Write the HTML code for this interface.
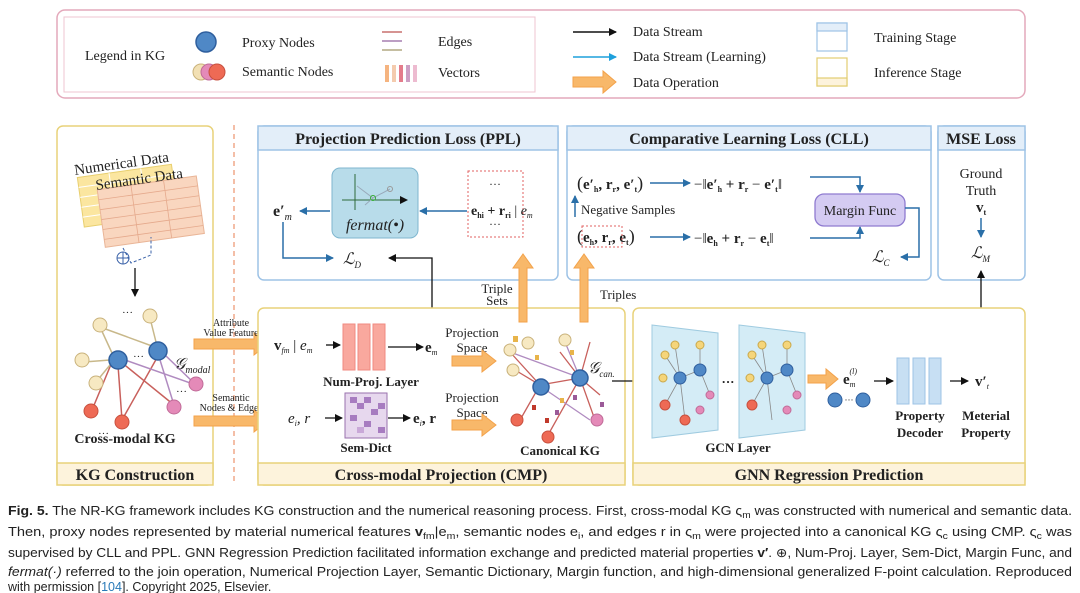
<!DOCTYPE html>
<html><head><meta charset="utf-8"><style>
html,body{margin:0;padding:0;background:#fff;width:1080px;height:593px;overflow:hidden}
svg{display:block}
text{font-family:"Liberation Serif",serif;fill:#222}
.b{font-weight:bold}
.cap{font-family:"Liberation Sans",sans-serif;font-size:12.5px;fill:#222}
</style></head><body>
<svg width="1080" height="593" viewBox="0 0 1080 593" xmlns="http://www.w3.org/2000/svg">
<defs>
<marker id="ak" markerWidth="8" markerHeight="8" refX="7" refY="4" orient="auto" markerUnits="userSpaceOnUse"><path d="M0,0 L8,4 L0,8 z" fill="#111"/></marker>
<marker id="ab" markerWidth="8" markerHeight="8" refX="7" refY="4" orient="auto" markerUnits="userSpaceOnUse"><path d="M0,0 L8,4 L0,8 z" fill="#2a6fa8"/></marker>
<marker id="ac" markerWidth="8" markerHeight="8" refX="7" refY="4" orient="auto" markerUnits="userSpaceOnUse"><path d="M0,0 L8,4 L0,8 z" fill="#1ea0dc"/></marker>
</defs>

<!-- Legend -->
<rect x="57" y="10" width="968" height="88" rx="8" fill="#fff" stroke="#e4a9bb" stroke-width="1.5"/>
<rect x="64" y="17" width="471" height="75" fill="none" stroke="#efc4d0" stroke-width="1"/>
<text x="85" y="60" font-size="14">Legend in KG</text>
<circle cx="206" cy="42" r="10" fill="#4f88c6" stroke="#2f5f9e" stroke-width="1.5"/>
<text x="242" y="47" font-size="14">Proxy Nodes</text>
<circle cx="201" cy="72" r="8" fill="#f2e0b4" stroke="#c9b27b"/>
<circle cx="209" cy="72" r="8" fill="#e48ab8" stroke="#c06b98"/>
<circle cx="217" cy="72" r="8" fill="#ee6a55" stroke="#c8503e"/>
<text x="242" y="76" font-size="14">Semantic Nodes</text>
<path d="M382,32 h20" stroke="#c9706f" stroke-width="1.5"/>
<path d="M382,41 h20" stroke="#a57fb0" stroke-width="1.5"/>
<path d="M382,50 h20" stroke="#b2a882" stroke-width="1.5"/>
<text x="438" y="46" font-size="14">Edges</text>
<g opacity="0.85">
<rect x="385" y="65" width="4" height="17" fill="#f4a86b"/><rect x="392" y="65" width="4" height="17" fill="#f3c3a1"/>
<rect x="399" y="65" width="4" height="17" fill="#e06677"/><rect x="406" y="65" width="4" height="17" fill="#c58fba"/>
<rect x="413" y="65" width="4" height="17" fill="#eab0c8"/></g>
<text x="438" y="77" font-size="14">Vectors</text>
<line x1="573" y1="32" x2="616" y2="32" stroke="#111" stroke-width="1.5" marker-end="url(#ak)"/>
<text x="633" y="36" font-size="14">Data Stream</text>
<line x1="573" y1="57" x2="616" y2="57" stroke="#1ea0dc" stroke-width="1.5" marker-end="url(#ac)"/>
<text x="633" y="61" font-size="14">Data Stream (Learning)</text>
<path d="M573,77 h30 v-6 l13,11 l-13,11 v-6 h-30 z" fill="#f8b86a" stroke="#f3a24a"/>
<text x="633" y="87" font-size="14">Data Operation</text>
<rect x="817" y="23" width="30" height="28" fill="#fff" stroke="#9ec3e6" stroke-width="1.2"/>
<rect x="817" y="23" width="30" height="8" fill="#e3eef9" stroke="#9ec3e6" stroke-width="1.2"/>
<text x="874" y="42" font-size="14">Training Stage</text>
<rect x="817" y="58" width="30" height="28" fill="#fff" stroke="#e2cd72" stroke-width="1.2"/>
<rect x="817" y="78" width="30" height="8" fill="#fdf3dc" stroke="#e2cd72" stroke-width="1.2"/>
<text x="874" y="77" font-size="14">Inference Stage</text>

<!-- KG Construction -->
<rect x="57" y="126" width="156" height="359" rx="6" fill="#fff" stroke="#e8d27a" stroke-width="1.5"/>
<rect x="57" y="463" width="156" height="22" fill="#fdf3dc" stroke="#e8d27a" stroke-width="1.5"/>
<text x="135" y="480" font-size="16" class="b" text-anchor="middle">KG Construction</text>
<line x1="234" y1="125" x2="234" y2="485" stroke="#f0a98a" stroke-width="1.5" stroke-dasharray="5,4"/>
<g transform="rotate(-8 110 180)">
<rect x="78" y="173" width="95" height="50" fill="#fbe6a0" stroke="#e8cf6f"/>
<path d="M78,183 h95 M78,193 h95 M78,203 h95 M78,213 h95 M110,173 v50 M142,173 v50" stroke="#fff" stroke-width="1"/>
<rect x="96" y="188" width="100" height="58" fill="#f9d6bf" stroke="#e9b597"/>
<path d="M96,198 h100 M96,208 h100 M96,218 h100 M96,228 h100 M96,238 h100 M130,188 v58 M163,188 v58" stroke="#e5a98c" stroke-width="0.8"/>
<text x="76" y="170" font-size="15">Numerical Data</text>
<text x="95" y="188" font-size="15">Semantic Data</text>
</g>
<circle cx="123" cy="258" r="6" fill="none" stroke="#3a62a8"/><path d="M117,258 h12 M123,252 v12" stroke="#3a62a8"/>
<path d="M123,248 l8,15 l20,-8 v-18" fill="none" stroke="#3a62a8" stroke-dasharray="3,2"/>
<line x1="135" y1="268" x2="135" y2="296" stroke="#111" stroke-width="1.3" marker-end="url(#ak)"/>
<!-- cross-modal graph -->
<g stroke-width="1.5" fill="none">
<path d="M92,410 L112,362 M122,420 L118,365 M122,420 L158,356 M174,405 L121,362" stroke="#c8605c"/>
<path d="M100,327 L112,353 M100,327 L152,346 M84,362 L110,360 M96,382 L110,365 M150,318 L156,342" stroke="#c8b88a"/>
<path d="M196,385 L125,360 M174,405 L160,360 M196,385 L165,355" stroke="#b08bc0"/>
</g>
<circle cx="100" cy="325" r="7" fill="#f7e9c2" stroke="#c9b27b"/>
<circle cx="82" cy="360" r="7" fill="#f7e9c2" stroke="#c9b27b"/>
<circle cx="150" cy="316" r="7" fill="#f7e9c2" stroke="#c9b27b"/>
<circle cx="96" cy="383" r="7" fill="#f7e9c2" stroke="#c9b27b"/>
<circle cx="91" cy="411" r="7" fill="#ee6a55" stroke="#c8503e"/>
<circle cx="122" cy="422" r="7" fill="#ee6a55" stroke="#c8503e"/>
<circle cx="174" cy="407" r="7" fill="#e48ab8" stroke="#c06b98"/>
<circle cx="196" cy="384" r="7" fill="#e48ab8" stroke="#c06b98"/>
<circle cx="118" cy="360" r="9" fill="#4f88c6" stroke="#2f5f9e" stroke-width="1.5"/>
<circle cx="158" cy="351" r="9" fill="#4f88c6" stroke="#2f5f9e" stroke-width="1.5"/>
<text x="122" y="316" font-size="11">···</text><text x="133" y="360" font-size="11">···</text>
<text x="176" y="395" font-size="11">···</text><text x="98" y="437" font-size="11">···</text>
<text x="174" y="369" font-size="16" font-style="italic">𝒢<tspan font-size="10" dy="4">modal</tspan></text>
<text x="125" y="443" font-size="14" class="b" text-anchor="middle">Cross-modal KG</text>
<!-- orange arrows to CMP -->
<path d="M194,339 h60 v-6 l14,11 l-14,11 v-6 h-60 z" fill="#f8b86a" stroke="#f3a24a"/>
<text x="231" y="326" font-size="10" text-anchor="middle">Attribute</text>
<text x="231" y="336" font-size="10" text-anchor="middle">Value Feature</text>
<path d="M194,416 h60 v-6 l14,11 l-14,11 v-6 h-60 z" fill="#f8b86a" stroke="#f3a24a"/>
<text x="231" y="401" font-size="10" text-anchor="middle">Semantic</text>
<text x="231" y="411" font-size="10" text-anchor="middle">Nodes &amp; Edges</text>

<!-- PPL -->
<rect x="258" y="126" width="300" height="154" rx="6" fill="#fff" stroke="#9ec3e6" stroke-width="1.5"/>
<rect x="258" y="126" width="300" height="24" fill="#e3eef9" stroke="#9ec3e6" stroke-width="1.5"/>
<text x="408" y="144" font-size="16" class="b" text-anchor="middle">Projection Prediction Loss (PPL)</text>
<text x="273" y="216" font-size="16" class="b">e′<tspan font-size="10" font-style="italic" font-weight="normal" dy="4">m</tspan></text>
<line x1="330" y1="211" x2="300" y2="211" stroke="#2a6fa8" stroke-width="1.5" marker-end="url(#ab)"/>
<rect x="332" y="168" width="86" height="70" rx="8" fill="#b8dcea" stroke="#7fb6cf"/>
<line x1="342" y1="200" x2="407" y2="200" stroke="#2e6a3a" marker-end="url(#ak)"/>
<line x1="355" y1="210" x2="355" y2="174" stroke="#2e6a3a"/>
<path d="M357,186 L373,198 L390,189 M373,198 L365,205" stroke="#9ab" fill="none"/>
<circle cx="373" cy="198" r="2.5" fill="none" stroke="#3a3"/><circle cx="390" cy="189" r="2.5" fill="none" stroke="#999"/>
<text x="375" y="230" font-size="16" font-style="italic" text-anchor="middle">fermat(•)</text>
<line x1="467" y1="211" x2="420" y2="211" stroke="#2a6fa8" stroke-width="1.5" marker-end="url(#ab)"/>
<rect x="468" y="171" width="55" height="66" fill="none" stroke="#e06060" stroke-dasharray="2,2"/>
<text x="495" y="188" font-size="12" text-anchor="middle">···</text>
<text x="471" y="215" font-size="14" class="b">e<tspan font-size="8" dy="3">hi</tspan><tspan dy="-3"> + r</tspan><tspan font-size="8" dy="3">ri</tspan><tspan dy="-3" font-weight="normal"> | </tspan><tspan font-style="italic" font-weight="normal">e</tspan><tspan font-size="8" font-style="italic" font-weight="normal" dy="3">m</tspan></text>
<text x="495" y="228" font-size="12" text-anchor="middle">···</text>
<path d="M283,222 v36 h50" fill="none" stroke="#2a6fa8" stroke-width="1.5" marker-end="url(#ab)"/>
<text x="343" y="264" font-size="16" font-style="italic">ℒ<tspan font-size="9" dy="4">D</tspan></text>
<path d="M432,330 v-72 h-43" fill="none" stroke="#111" stroke-width="1.3" marker-end="url(#ak)"/>

<!-- CLL -->
<rect x="567" y="126" width="364" height="154" rx="6" fill="#fff" stroke="#9ec3e6" stroke-width="1.5"/>
<rect x="567" y="126" width="364" height="24" fill="#e3eef9" stroke="#9ec3e6" stroke-width="1.5"/>
<text x="749" y="144" font-size="16" class="b" text-anchor="middle">Comparative Learning  Loss (CLL)</text>
<text x="577" y="189" font-size="15" class="b"><tspan font-weight="normal" font-size="18">(</tspan>e′<tspan font-size="8" dy="3">h</tspan><tspan dy="-3">, r</tspan><tspan font-size="8" dy="3">r</tspan><tspan dy="-3">, e′</tspan><tspan font-size="8" dy="3">t</tspan><tspan dy="-3" font-weight="normal" font-size="18">)</tspan></text>
<line x1="650" y1="183" x2="690" y2="183" stroke="#2a6fa8" stroke-width="1.5" marker-end="url(#ab)"/>
<text x="694" y="189" font-size="15" class="b"><tspan font-weight="normal">−‖</tspan>e′<tspan font-size="8" dy="3">h</tspan><tspan dy="-3"> + r</tspan><tspan font-size="8" dy="3">r</tspan><tspan dy="-3" font-weight="normal"> − </tspan>e′<tspan font-size="8" dy="3">t</tspan><tspan dy="-3" font-weight="normal">‖</tspan></text>
<line x1="575" y1="217" x2="575" y2="196" stroke="#2a6fa8" stroke-width="1.5" marker-end="url(#ab)"/>
<text x="581" y="214" font-size="13">Negative Samples</text>
<text x="577" y="242" font-size="15" class="b"><tspan font-weight="normal" font-size="18">(</tspan>e<tspan font-size="8" dy="3">h</tspan><tspan dy="-3">, r</tspan><tspan font-size="8" dy="3">r</tspan><tspan dy="-3">, e</tspan><tspan font-size="8" dy="3">t</tspan><tspan dy="-3" font-weight="normal" font-size="18">)</tspan></text>
<rect x="582" y="226" width="40" height="21" fill="none" stroke="#e06060" stroke-dasharray="2,2"/>
<line x1="650" y1="237" x2="690" y2="237" stroke="#2a6fa8" stroke-width="1.5" marker-end="url(#ab)"/>
<text x="694" y="243" font-size="15" class="b"><tspan font-weight="normal">−‖</tspan>e<tspan font-size="8" dy="3">h</tspan><tspan dy="-3"> + r</tspan><tspan font-size="8" dy="3">r</tspan><tspan dy="-3" font-weight="normal"> − </tspan>e<tspan font-size="8" dy="3">t</tspan><tspan dy="-3" font-weight="normal">‖</tspan></text>
<path d="M810,177 h50 v15" fill="none" stroke="#2a6fa8" stroke-width="1.5" marker-end="url(#ab)"/>
<path d="M810,238 h50 v-11" fill="none" stroke="#2a6fa8" stroke-width="1.5" marker-end="url(#ab)"/>
<rect x="815" y="194" width="90" height="32" rx="9" fill="#d4cbf2" stroke="#8f7bd0" stroke-width="1.3"/>
<text x="860" y="215" font-size="14" text-anchor="middle">Margin Func</text>
<path d="M905,208 h14 v49 h-18" fill="none" stroke="#2a6fa8" stroke-width="1.5" marker-end="url(#ab)"/>
<text x="872" y="262" font-size="16" font-style="italic">ℒ<tspan font-size="9" dy="4">C</tspan></text>

<!-- MSE -->
<rect x="938" y="126" width="87" height="154" rx="6" fill="#fff" stroke="#9ec3e6" stroke-width="1.5"/>
<rect x="938" y="126" width="87" height="24" fill="#e3eef9" stroke="#9ec3e6" stroke-width="1.5"/>
<text x="981" y="144" font-size="16" class="b" text-anchor="middle">MSE Loss</text>
<text x="981" y="178" font-size="14" text-anchor="middle">Ground</text>
<text x="981" y="195" font-size="14" text-anchor="middle">Truth</text>
<text x="976" y="212" font-size="15" class="b">v<tspan font-size="8" dy="3">t</tspan></text>
<line x1="981" y1="218" x2="981" y2="237" stroke="#2a6fa8" stroke-width="1.5" marker-end="url(#ab)"/>
<text x="971" y="258" font-size="16" font-style="italic">ℒ<tspan font-size="9" dy="4">M</tspan></text>
<line x1="981" y1="343" x2="981" y2="271" stroke="#111" stroke-width="1.3" marker-end="url(#ak)"/>

<!-- CMP -->
<rect x="258" y="308" width="367" height="177" rx="6" fill="#fff" stroke="#e8d27a" stroke-width="1.5"/>
<rect x="258" y="463" width="367" height="22" fill="#fdf3dc" stroke="#e8d27a" stroke-width="1.5"/>
<text x="441" y="480" font-size="16" class="b" text-anchor="middle">Cross-modal Projection (CMP)</text>
<text x="274" y="350" font-size="15" class="b">v<tspan font-size="8" font-style="italic" font-weight="normal" dy="3">fm</tspan><tspan dy="-3" font-weight="normal"> | </tspan><tspan font-style="italic" font-weight="normal">e</tspan><tspan font-size="8" font-style="italic" font-weight="normal" dy="3">m</tspan></text>
<line x1="326" y1="345" x2="340" y2="345" stroke="#111" stroke-width="1.3" marker-end="url(#ak)"/>
<rect x="343" y="324" width="12" height="46" fill="#f9a89e" stroke="#f08a80"/>
<rect x="358" y="324" width="12" height="46" fill="#f9a89e" stroke="#f08a80"/>
<rect x="373" y="324" width="12" height="46" fill="#f9a89e" stroke="#f08a80"/>
<line x1="388" y1="347" x2="423" y2="347" stroke="#111" stroke-width="1.3" marker-end="url(#ak)"/>
<text x="425" y="352" font-size="15" class="b">e<tspan font-size="8" font-style="italic" font-weight="normal" dy="3">m</tspan></text>
<text x="371" y="386" font-size="13" class="b" text-anchor="middle">Num-Proj. Layer</text>
<text x="288" y="423" font-size="15" font-style="italic">e<tspan font-size="8" dy="3">i</tspan><tspan dy="-3">, r</tspan></text>
<line x1="325" y1="418" x2="342" y2="418" stroke="#111" stroke-width="1.3" marker-end="url(#ak)"/>
<rect x="345" y="393" width="42" height="45" fill="#e7d8ee" stroke="#9a72ad"/>
<g fill="#a77cc0"><rect x="350" y="397" width="7" height="6"/><rect x="364" y="397" width="7" height="6"/><rect x="357" y="403" width="7" height="6"/><rect x="378" y="403" width="7" height="6"/><rect x="350" y="415" width="7" height="6"/><rect x="371" y="409" width="7" height="6"/><rect x="364" y="421" width="7" height="6"/><rect x="378" y="427" width="7" height="6"/><rect x="357" y="427" width="7" height="6" fill="#c9a8d8"/></g>
<line x1="388" y1="418" x2="410" y2="418" stroke="#111" stroke-width="1.3" marker-end="url(#ak)"/>
<text x="413" y="423" font-size="15" class="b">e<tspan font-size="8" font-style="italic" font-weight="normal" dy="3">i</tspan><tspan dy="-3">, r</tspan></text>
<text x="366" y="452" font-size="13" class="b" text-anchor="middle">Sem-Dict</text>
<text x="472" y="337" font-size="13" text-anchor="middle">Projection</text>
<text x="472" y="352" font-size="13" text-anchor="middle">Space</text>
<path d="M452,356 h30 v-6 l14,11 l-14,11 v-6 h-30 z" fill="#f8b86a" stroke="#f3a24a"/>
<text x="472" y="402" font-size="13" text-anchor="middle">Projection</text>
<text x="472" y="417" font-size="13" text-anchor="middle">Space</text>
<path d="M452,420 h30 v-6 l14,11 l-14,11 v-6 h-30 z" fill="#f8b86a" stroke="#f3a24a"/>
<!-- canonical KG -->
<g stroke-width="1.3" fill="none">
<path d="M510,352 L540,385 M515,370 L540,385 M540,385 L580,378 M520,420 L540,385 M548,435 L580,378 M595,420 L580,378 M580,378 L600,395 M560,352 L580,378 M590,342 L580,378" stroke="#c8605c"/>
<path d="M510,352 L578,377 M565,342 L580,378 M590,420 L543,388" stroke="#b08bc0"/>
</g>
<g fill="#e8b44a"><rect x="513" y="336" width="5" height="6"/><rect x="535" y="355" width="4" height="5"/><rect x="570" y="350" width="4" height="5"/><rect x="560" y="398" width="4" height="5"/></g>
<g fill="#9b5a98"><rect x="555" y="410" width="4" height="5"/><rect x="600" y="402" width="4" height="5"/><rect x="573" y="395" width="4" height="5"/></g>
<g fill="#c0392b"><rect x="532" y="405" width="4" height="5"/><rect x="545" y="418" width="4" height="5"/></g>
<circle cx="510" cy="350" r="6" fill="#f7e9c2" stroke="#c9b27b"/>
<circle cx="513" cy="370" r="6" fill="#f7e9c2" stroke="#c9b27b"/>
<circle cx="528" cy="343" r="6" fill="#f7e9c2" stroke="#c9b27b"/>
<circle cx="565" cy="340" r="6" fill="#f7e9c2" stroke="#c9b27b"/>
<circle cx="517" cy="420" r="6" fill="#ee6a55" stroke="#c8503e"/>
<circle cx="548" cy="437" r="6" fill="#ee6a55" stroke="#c8503e"/>
<circle cx="597" cy="420" r="6" fill="#e48ab8" stroke="#c06b98"/>
<circle cx="541" cy="387" r="8" fill="#4f88c6" stroke="#2f5f9e" stroke-width="1.5"/>
<circle cx="580" cy="378" r="8" fill="#4f88c6" stroke="#2f5f9e" stroke-width="1.5"/>
<text x="588" y="373" font-size="16" font-style="italic">𝒢<tspan font-size="9" dy="4">can.</tspan></text>
<text x="560" y="455" font-size="13" class="b" text-anchor="middle">Canonical KG</text>
<!-- upward arrows -->
<path d="M519,322 v-54 h-6 l10,-14 l10,14 h-6 v54 z" fill="#f8b86a" stroke="#f3a24a"/>
<text x="497" y="293" font-size="13" text-anchor="middle">Triple</text>
<text x="497" y="305" font-size="13" text-anchor="middle">Sets</text>
<path d="M580,322 v-54 h-6 l10,-14 l10,14 h-6 v54 z" fill="#f8b86a" stroke="#f3a24a"/>
<text x="600" y="299" font-size="13">Triples</text>
<line x1="612" y1="381" x2="648" y2="381" stroke="#111" stroke-width="1.3" marker-end="url(#ak)"/>

<!-- GNN -->
<rect x="633" y="308" width="392" height="177" rx="6" fill="#fff" stroke="#e8d27a" stroke-width="1.5"/>
<rect x="633" y="463" width="392" height="22" fill="#fdf3dc" stroke="#e8d27a" stroke-width="1.5"/>
<text x="829" y="480" font-size="16" class="b" text-anchor="middle">GNN Regression Prediction</text>
<g>
<path d="M652,325 L718,333 L718,430 L652,438 z" fill="#d4ecf6" stroke="#9fcbe0"/>
<path d="M739,325 L805,333 L805,430 L739,438 z" fill="#d4ecf6" stroke="#9fcbe0"/>
<g stroke="#888" stroke-width="0.8" fill="none">
<path d="M665,355 L680,378 L700,370 M675,345 L680,378 L665,405 M700,370 L710,395 M680,378 L685,420 M700,370 L700,345"/>
<path d="M752,355 L767,378 L787,370 M762,345 L767,378 L752,405 M787,370 L797,395 M767,378 L772,420 M787,370 L787,345"/>
</g>
<g fill="#f5d57a" stroke="#c9a84a"><circle cx="665" cy="355" r="4"/><circle cx="675" cy="345" r="4"/><circle cx="700" cy="345" r="4"/><circle cx="752" cy="355" r="4"/><circle cx="762" cy="345" r="4"/><circle cx="787" cy="345" r="4"/><circle cx="663" cy="378" r="4"/><circle cx="750" cy="378" r="4"/></g>
<g fill="#4f88c6" stroke="#2f5f9e"><circle cx="680" cy="378" r="6"/><circle cx="700" cy="370" r="6"/><circle cx="767" cy="378" r="6"/><circle cx="787" cy="370" r="6"/></g>
<g fill="#ee6a55" stroke="#c8503e"><circle cx="665" cy="405" r="5"/><circle cx="685" cy="420" r="5"/><circle cx="752" cy="405" r="5"/></g>
<g fill="#e48ab8" stroke="#c06b98"><circle cx="710" cy="395" r="4"/><circle cx="700" cy="410" r="4"/><circle cx="797" cy="395" r="4"/><circle cx="787" cy="410" r="4"/></g>
</g>
<text x="728" y="386" font-size="13" class="b" text-anchor="middle">···</text>
<text x="738" y="452" font-size="13" class="b" text-anchor="middle">GCN Layer</text>
<path d="M808,375 h18 v-6 l12,10 l-12,10 v-6 h-18 z" fill="#f8b86a" stroke="#f3a24a"/>
<text x="843" y="384" font-size="15" class="b">e<tspan font-size="8" font-style="italic" font-weight="normal" dy="3">m</tspan><tspan font-size="8" font-style="italic" font-weight="normal" dx="-6" dy="-13">(l)</tspan></text>
<circle cx="835" cy="400" r="7" fill="#4f88c6" stroke="#2f5f9e"/><circle cx="863" cy="400" r="7" fill="#4f88c6" stroke="#2f5f9e"/>
<text x="849" y="403" font-size="9" text-anchor="middle">···</text>
<line x1="874" y1="381" x2="893" y2="381" stroke="#111" stroke-width="1.3" marker-end="url(#ak)"/>
<rect x="897" y="358" width="12" height="46" fill="#c7dff3" stroke="#9ec3e6"/>
<rect x="913" y="358" width="12" height="46" fill="#c7dff3" stroke="#9ec3e6"/>
<rect x="929" y="358" width="12" height="46" fill="#c7dff3" stroke="#9ec3e6"/>
<line x1="950" y1="381" x2="968" y2="381" stroke="#111" stroke-width="1.3" marker-end="url(#ak)"/>
<text x="975" y="386" font-size="15" class="b">v′<tspan font-size="8" font-style="italic" font-weight="normal" dy="3">t</tspan></text>
<text x="920" y="420" font-size="13" class="b" text-anchor="middle">Property</text>
<text x="920" y="437" font-size="13" class="b" text-anchor="middle">Decoder</text>
<text x="986" y="420" font-size="13" class="b" text-anchor="middle">Meterial</text>
<text x="986" y="437" font-size="13" class="b" text-anchor="middle">Property</text>

<!-- Caption -->
<text class="cap" x="8" y="515" textLength="1064" lengthAdjust="spacingAndGlyphs"><tspan font-weight="bold">Fig. 5.</tspan> The NR-KG framework includes KG construction and the numerical reasoning process. First, cross-modal KG ς<tspan font-size="9" dy="3">m</tspan><tspan dy="-3"> was constructed with numerical and semantic data.</tspan></text>
<text class="cap" x="8" y="536" textLength="1064" lengthAdjust="spacingAndGlyphs">Then, proxy nodes represented by material numerical features <tspan font-weight="bold">v</tspan><tspan font-size="9" dy="3">fm</tspan><tspan dy="-3">|e</tspan><tspan font-size="9" dy="3">m</tspan><tspan dy="-3">, semantic nodes e</tspan><tspan font-size="9" dy="3">i</tspan><tspan dy="-3">, and edges r in ς</tspan><tspan font-size="9" dy="3">m</tspan><tspan dy="-3"> were projected into a canonical KG ς</tspan><tspan font-size="9" dy="3">c</tspan><tspan dy="-3"> using CMP. ς</tspan><tspan font-size="9" dy="3">c</tspan><tspan dy="-3"> was</tspan></text>
<text class="cap" x="8" y="557" textLength="1064" lengthAdjust="spacingAndGlyphs">supervised by CLL and PPL. GNN Regression Prediction facilitated information exchange and predicted material properties <tspan font-weight="bold">v′</tspan>. ⊕, Num-Proj. Layer, Sem-Dict, Margin Func, and</text>
<text class="cap" x="8" y="576" textLength="1064" lengthAdjust="spacingAndGlyphs"><tspan font-style="italic">fermat(·)</tspan> referred to the join operation, Numerical Projection Layer, Semantic Dictionary, Margin function, and high-dimensional generalized F-point calculation. Reproduced</text>
<text class="cap" x="8" y="591" font-size="12">with permission [<tspan fill="#2a7ab8">104</tspan>]. Copyright 2025, Elsevier.</text>
</svg>
</body></html>
